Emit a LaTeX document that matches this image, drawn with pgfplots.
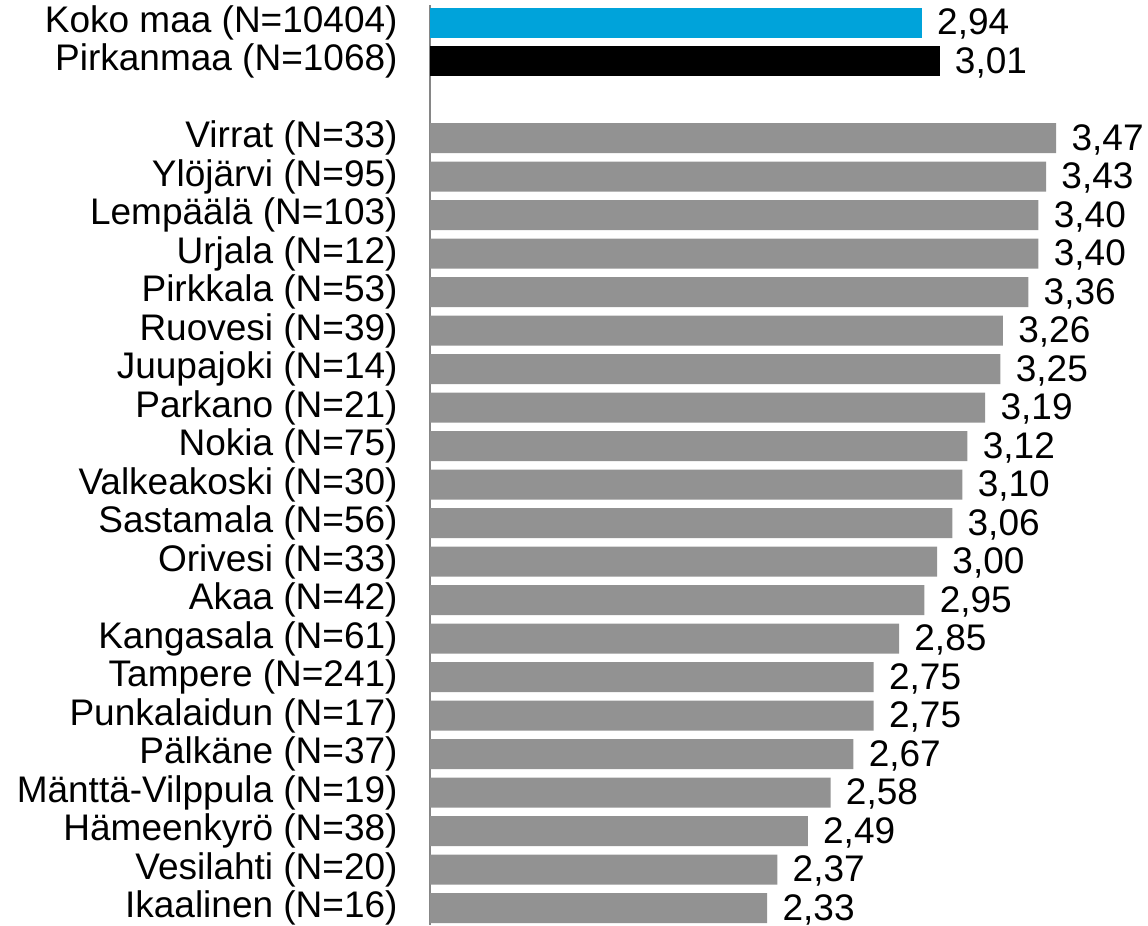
\documentclass[border=0pt]{standalone}
\usepackage{fontspec}
\setmainfont{Liberation Sans}
\usepackage{pgfplots}
\pgfplotsset{compat=1.18}
\definecolor{kokoblue}{RGB}{0,163,218}
\definecolor{bargray}{RGB}{146,146,146}
\definecolor{axgray}{RGB}{134,134,134}
\begin{document}
\begin{tikzpicture}
\begin{axis}[
  scale only axis, width=359pt, height=460.075pt,
  xmin=1, xmax=3.832, ymin=-0.45, ymax=23.45, y dir=reverse,
  xbar, bar width=15pt, bar shift=0pt,
  axis x line=none, axis y line*=left,
  y axis line style={-, draw=axgray, line width=0.75pt},
  major tick length=0pt,
  ytick={0,...,23},
  yticklabels={{Koko maa (N=10404)},{Pirkanmaa (N=1068)},{},{Virrat (N=33)},{Ylöjärvi (N=95)},{Lempäälä (N=103)},{Urjala (N=12)},{Pirkkala (N=53)},{Ruovesi (N=39)},{Juupajoki (N=14)},{Parkano (N=21)},{Nokia (N=75)},{Valkeakoski (N=30)},{Sastamala (N=56)},{Orivesi (N=33)},{Akaa (N=42)},{Kangasala (N=61)},{Tampere (N=241)},{Punkalaidun (N=17)},{Pälkäne (N=37)},{Mänttä-Vilppula (N=19)},{Hämeenkyrö (N=38)},{Vesilahti (N=20)},{Ikaalinen (N=16)}},
  yticklabel style={font=\fontsize{18.5}{20}\selectfont, inner sep=0pt, xshift=-16pt},
  nodes near coords, point meta=x,
  every node near coord/.append style={font=\fontsize{18.5}{20}\selectfont, anchor=west, inner sep=0pt, xshift=7.5pt, yshift=-0.8pt, /pgf/number format/fixed, /pgf/number format/fixed zerofill, /pgf/number format/precision=2, /pgf/number format/use comma, /pgf/number format/assume math mode=true},
]
\addplot[fill=kokoblue, draw=none] coordinates {(2.94,0)};
\addplot[fill=black, draw=none] coordinates {(3.01,1)};
\addplot[fill=bargray, draw=none] coordinates {(3.47,3) (3.43,4) (3.40,5) (3.40,6) (3.36,7) (3.26,8) (3.25,9) (3.19,10) (3.12,11) (3.10,12) (3.06,13) (3.00,14) (2.95,15) (2.85,16) (2.75,17) (2.75,18) (2.67,19) (2.58,20) (2.49,21) (2.37,22) (2.33,23)};
\end{axis}
\pgfresetboundingbox
\path[use as bounding box] ([xshift=-215pt]current axis.south west) rectangle ([yshift=2.6pt]current axis.north east);
\end{tikzpicture}
\end{document}
